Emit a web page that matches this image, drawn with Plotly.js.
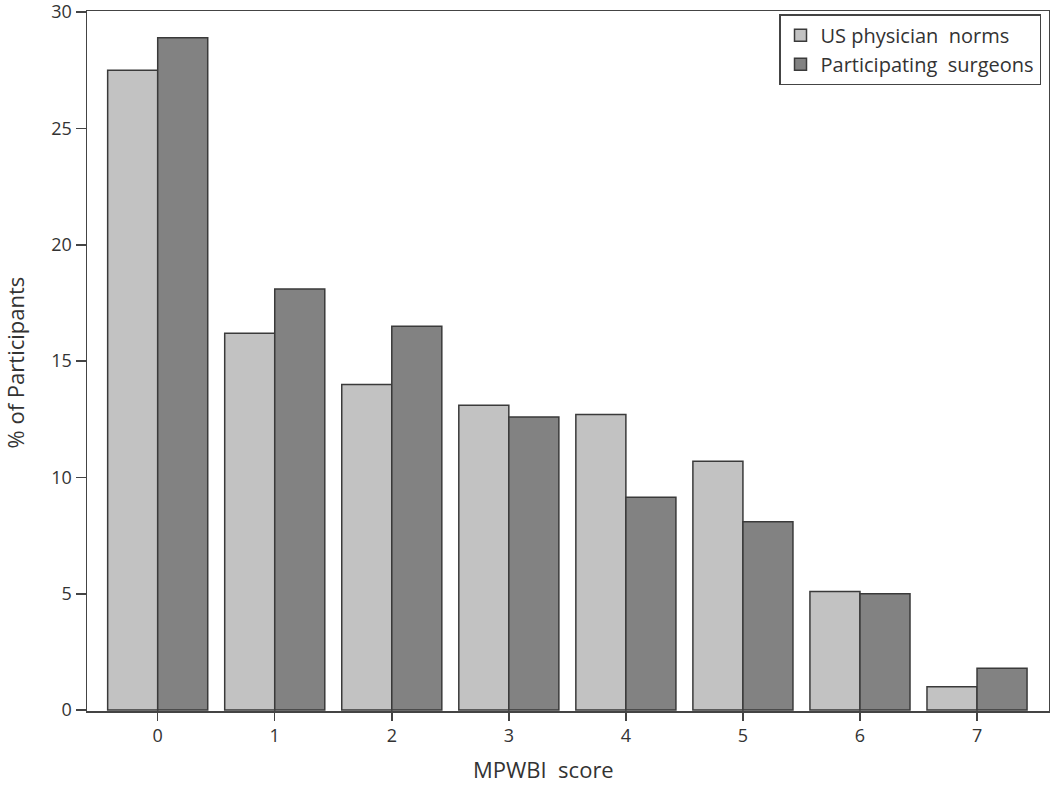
<!DOCTYPE html>
<html>
<head>
<meta charset="utf-8">
<script src="https://cdn.plot.ly/plotly-3.0.1.min.js"></script>
<style>html,body{margin:0;padding:0;background:#fff;}#chart{width:1050px;height:788px;}</style>
</head>
<body>
<div id="chart"></div>
<script>
const categories = ["0", "1", "2", "3", "4", "5", "6", "7"];
const usPhysicianNorms = [27.5, 16.2, 14.0, 13.1, 12.7, 10.7, 5.1, 1.0];
const participatingSurgeons = [28.9, 18.1, 16.5, 12.6, 9.15, 8.1, 5.0, 1.8];
const seriesNames = ["US physician  norms", "Participating  surgeons"];
const yTicks = [0, 5, 10, 15, 20, 25, 30];
const xTitle = "MPWBI  score";
const yTitle = "% of Participants";

const fontFam = "Open Sans, Noto Sans, sans-serif";
const traces = [
  {
    type: "bar", name: seriesNames[0], x: categories, y: usPhysicianNorms,
    marker: {color: "#c2c2c2", line: {color: "#3a3a3a", width: 1.5}}
  },
  {
    type: "bar", name: seriesNames[1], x: categories, y: participatingSurgeons,
    marker: {color: "#828282", line: {color: "#3a3a3a", width: 1.5}}
  }
];

const layout = {
  width: 1050, height: 788,
  margin: {l: 87, r: 1, t: 11, b: 77, pad: 0},
  paper_bgcolor: "#fff", plot_bgcolor: "#fff",
  barmode: "group", bargap: 0.145, bargroupgap: 0,
  font: {family: fontFam, color: "#333", size: 18},
  showlegend: true,
  legend: {
    x: 0.9917, xanchor: "right", y: 0.9955, yanchor: "top",
    bordercolor: "#444", borderwidth: 1.5, bgcolor: "#fff",
    font: {family: fontFam, size: 20, color: "#333"},
    itemclick: false, tracegroupgap: 0
  },
  xaxis: {
    type: "category", range: [-0.604, 7.615],
    showline: true, mirror: true, linecolor: "#444", linewidth: 1.5,
    ticks: "outside", ticklen: 8, tickcolor: "#444", tickwidth: 1.5,
    showgrid: false, zeroline: false,
    tickfont: {family: fontFam, size: 18, color: "#333"},
    title: {text: ""}
  },
  yaxis: {
    range: [-0.04, 30.05], tickvals: yTicks, ticktext: yTicks.map(String),
    showline: true, mirror: true, linecolor: "#444", linewidth: 1.5,
    ticks: "outside", ticklen: 10, tickcolor: "#444", tickwidth: 1.5,
    showgrid: false, zeroline: false, ticklabeloverflow: "allow",
    tickfont: {family: fontFam, size: 18, color: "#333"},
    title: {text: ""}
  },
  annotations: [
    {text: xTitle, xref: "paper", yref: "paper", x: 0.475, y: -0.1065, xanchor: "center", yanchor: "bottom",
     showarrow: false, font: {family: fontFam, size: 22, color: "#333"}},
    {text: yTitle, xref: "paper", yref: "paper", x: -0.0745, y: 0.4985, xanchor: "center", yanchor: "middle",
     textangle: -90, showarrow: false, font: {family: fontFam, size: 22, color: "#333"}}
  ]
};

Plotly.newPlot("chart", traces, layout, {displayModeBar: false, staticPlot: true});
</script>
</body>
</html>
